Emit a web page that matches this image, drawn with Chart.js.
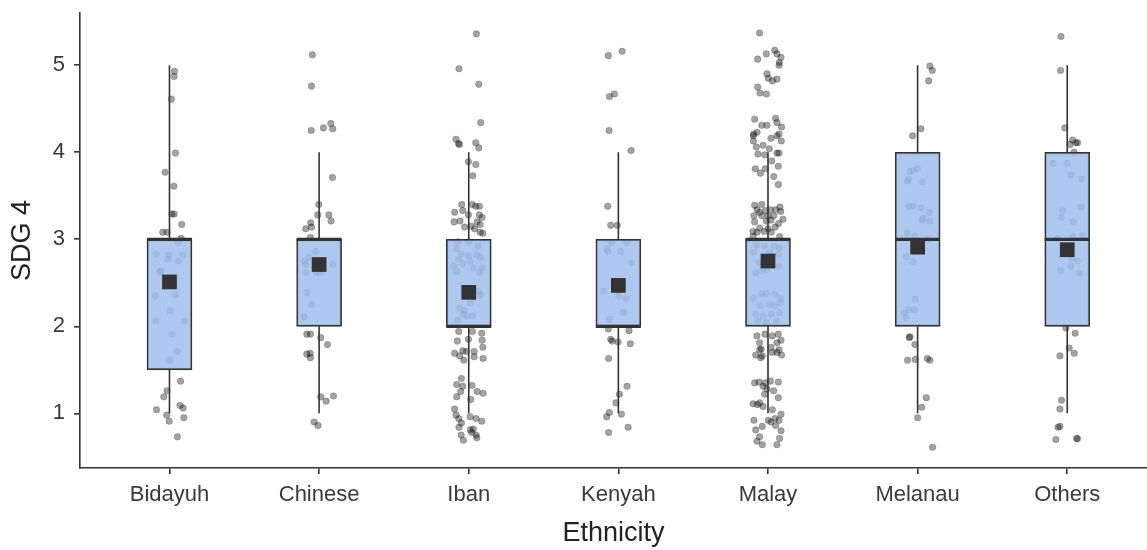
<!DOCTYPE html>
<html><head><meta charset="utf-8">
<script src="https://cdn.jsdelivr.net/npm/chart.js@4.4.1/dist/chart.umd.min.js"></script>
<style>html,body{margin:0;padding:0;background:#fff}</style>
</head><body>
<canvas id="c" width="1147" height="550"></canvas>
<script>
const categories = ["Bidayuh","Chinese","Iban","Kenyah","Malay","Melanau","Others"];
const whiskerLow  = [1, 1, 1, 1, 1, 1, 1];
const q1          = [1.5, 2, 2, 2, 2, 2, 2];
const median      = [3, 3, 2, 2, 3, 3, 3];
const q3          = [3, 3, 3, 3, 3, 4, 4];
const whiskerHigh = [5, 4, 4, 4, 4, 5, 5];
const means       = [2.51, 2.71, 2.39, 2.47, 2.75, 2.91, 2.88];
const yTicks = [1, 2, 3, 4, 5];

// jittered observations: [horizontal jitter, value]
const bidayuhPts = [[0.033,4.93],[0.031,4.87],[0.013,4.61],[0.040,3.99],[-0.029,3.77],[0.029,3.61],[0.016,3.29],[0.031,3.29],[0.082,3.17],[-0.045,3.08],[-0.016,3.08],[0.078,3.01],[0.058,2.96],[-0.089,2.83],[-0.004,2.82],[0.089,2.82],[-0.011,2.77],[0.060,2.75],[-0.056,2.64],[-0.067,2.62],[-0.094,2.35],[0.040,2.36],[0.004,2.18],[-0.091,2.06],[0.100,2.06],[0.016,1.91],[0.051,1.71],[0.002,1.61],[0.074,1.37],[-0.016,1.26],[-0.038,1.19],[0.071,1.09],[0.091,1.06],[-0.087,1.04],[-0.018,0.98],[-0.002,0.91],[0.096,0.95],[0.053,0.73]];
const chinesePts = [[-0.045,5.12],[-0.051,4.76],[-0.053,4.25],[0.029,4.28],[0.078,4.33],[0.091,4.27],[0.089,3.71],[-0.002,3.40],[-0.009,3.28],[0.065,3.28],[0.080,3.21],[-0.056,3.19],[-0.051,3.14],[-0.089,3.12],[-0.058,3.02],[-0.022,2.86],[-0.069,2.79],[-0.096,2.75],[-0.089,2.71],[0.091,2.71],[-0.087,2.62],[-0.020,2.62],[0.011,2.62],[-0.082,2.39],[-0.051,2.25],[-0.100,2.11],[-0.082,1.91],[-0.058,1.91],[0.011,1.87],[0.056,1.79],[-0.082,1.68],[-0.060,1.69],[-0.058,1.64],[0.011,1.19],[0.047,1.14],[0.096,1.20],[-0.033,0.90],[-0.007,0.86]];
const ibanPts = [[0.051,5.36],[-0.065,4.96],[0.067,4.78],[0.080,4.34],[-0.085,4.15],[-0.069,4.10],[-0.062,4.09],[0.047,4.11],[0.067,4.05],[-0.002,3.89],[0.047,3.86],[0.027,3.73],[-0.047,3.40],[0.022,3.40],[0.047,3.38],[0.071,3.38],[-0.094,3.31],[-0.040,3.33],[-0.002,3.28],[0.071,3.28],[0.089,3.25],[-0.098,3.20],[-0.058,3.21],[0.056,3.20],[-0.027,3.14],[0.016,3.15],[0.076,3.17],[0.040,3.12],[0.076,3.08],[0.094,3.07],[-0.071,2.97],[0.000,2.97],[0.062,2.92],[-0.080,2.89],[-0.051,2.83],[-0.002,2.81],[0.054,2.82],[0.078,2.79],[-0.067,2.77],[0.009,2.75],[-0.040,2.72],[-0.102,2.69],[0.033,2.67],[0.089,2.67],[-0.080,2.63],[0.071,2.62],[0.067,2.40],[0.078,2.36],[0.009,2.27],[-0.062,2.21],[-0.029,2.18],[-0.040,2.14],[-0.011,2.12],[0.027,2.12],[-0.074,2.07],[-0.067,1.94],[0.025,1.94],[0.087,1.92],[-0.076,1.83],[-0.002,1.85],[0.089,1.84],[0.094,1.76],[-0.040,1.72],[-0.094,1.69],[-0.016,1.71],[0.036,1.71],[-0.060,1.66],[-0.033,1.61],[0.036,1.65],[0.096,1.63],[-0.049,1.40],[-0.080,1.33],[-0.040,1.31],[0.022,1.32],[0.056,1.25],[0.096,1.23],[-0.054,1.25],[-0.080,1.19],[0.013,1.16],[-0.094,1.05],[-0.085,0.98],[-0.067,0.94],[-0.049,0.89],[0.009,0.96],[0.049,0.94],[0.087,0.91],[-0.065,0.84],[0.011,0.81],[0.031,0.82],[0.020,0.78],[0.049,0.75],[0.054,0.72],[-0.051,0.75],[-0.036,0.69]];
const kenyahPts = [[-0.067,5.11],[0.025,5.16],[-0.060,4.64],[-0.027,4.67],[-0.062,4.25],[0.085,4.02],[-0.071,3.38],[-0.051,3.16],[-0.007,3.16],[-0.045,2.96],[0.056,2.96],[-0.078,2.89],[-0.069,2.86],[0.016,2.86],[0.087,2.73],[-0.098,2.40],[0.002,2.35],[0.053,2.32],[0.033,2.16],[-0.060,2.08],[-0.067,1.97],[0.071,1.95],[-0.051,1.85],[-0.042,1.83],[-0.002,1.82],[0.080,1.80],[-0.065,1.63],[0.058,1.31],[0.007,1.22],[-0.016,1.12],[-0.060,1.01],[-0.078,0.96],[0.020,0.99],[-0.065,0.78],[0.065,0.84]];
const malayPts = [[-0.056,5.37],[-0.069,5.07],[-0.011,5.13],[0.045,5.17],[0.060,5.13],[0.087,5.09],[0.076,5.03],[0.074,5.00],[-0.007,4.90],[0.002,4.85],[0.029,4.82],[0.060,4.84],[-0.069,4.75],[-0.054,4.68],[-0.011,4.67],[-0.089,4.38],[-0.042,4.31],[-0.007,4.31],[0.051,4.39],[0.060,4.34],[0.091,4.29],[-0.096,4.21],[-0.098,4.19],[-0.073,4.23],[0.074,4.21],[0.060,4.19],[0.020,4.16],[0.089,4.13],[-0.098,4.13],[-0.033,4.08],[-0.078,4.06],[0.009,4.04],[0.060,3.99],[0.074,3.99],[-0.067,3.98],[-0.022,3.97],[0.025,3.90],[0.069,3.84],[-0.085,3.81],[-0.051,3.76],[-0.018,3.81],[0.038,3.72],[0.069,3.63],[-0.089,3.39],[-0.042,3.40],[0.080,3.37],[-0.073,3.34],[-0.056,3.31],[-0.016,3.33],[0.016,3.34],[0.051,3.34],[0.085,3.32],[-0.094,3.27],[-0.042,3.27],[0.000,3.27],[0.038,3.27],[0.100,3.23],[-0.089,3.20],[-0.011,3.21],[0.020,3.22],[0.071,3.18],[-0.056,3.13],[0.000,3.12],[0.047,3.14],[-0.100,3.09],[-0.073,3.08],[-0.025,3.09],[0.022,3.08],[0.078,3.03],[-0.100,3.03],[-0.078,2.93],[-0.022,2.92],[0.040,2.92],[0.078,2.90],[-0.096,2.85],[0.011,2.85],[0.069,2.83],[-0.060,2.73],[0.074,2.69],[-0.011,2.65],[-0.082,2.61],[-0.042,2.64],[-0.042,2.37],[-0.011,2.38],[0.045,2.37],[-0.096,2.32],[0.082,2.32],[-0.056,2.24],[0.011,2.25],[0.045,2.24],[0.085,2.27],[-0.082,2.14],[-0.033,2.12],[0.022,2.14],[0.078,2.16],[-0.067,2.06],[-0.011,2.04],[0.056,2.06],[-0.074,1.89],[-0.020,1.91],[0.029,1.89],[0.069,1.91],[0.087,1.84],[-0.056,1.81],[0.060,1.81],[-0.045,1.74],[-0.056,1.73],[0.020,1.76],[0.074,1.73],[-0.082,1.67],[-0.038,1.66],[0.029,1.70],[0.091,1.67],[-0.049,1.64],[0.060,1.70],[-0.089,1.35],[-0.060,1.36],[-0.018,1.35],[0.016,1.37],[0.069,1.36],[-0.033,1.31],[-0.007,1.28],[0.038,1.26],[0.069,1.18],[-0.022,1.22],[-0.100,1.11],[-0.056,1.12],[-0.033,1.08],[-0.071,1.10],[0.029,1.04],[0.087,0.99],[0.047,0.94],[0.002,0.92],[-0.094,0.92],[0.074,0.92],[0.020,0.90],[-0.038,0.85],[-0.082,0.81],[0.051,0.86],[0.087,0.80],[0.078,0.71],[-0.056,0.73],[-0.074,0.68],[-0.038,0.64],[0.060,0.64]];
const melanauPts = [[0.082,4.99],[0.098,4.94],[0.074,4.82],[0.022,4.27],[-0.033,4.19],[-0.002,3.81],[-0.051,3.78],[-0.029,3.79],[-0.060,3.69],[-0.069,3.67],[0.033,3.66],[-0.060,3.38],[-0.029,3.38],[0.022,3.36],[0.078,3.31],[0.038,3.24],[0.029,3.22],[0.082,3.21],[-0.069,3.07],[-0.020,3.04],[0.065,3.00],[-0.076,2.80],[-0.031,2.74],[-0.016,2.31],[-0.060,2.19],[-0.020,2.19],[-0.087,2.15],[-0.078,2.10],[-0.051,1.88],[-0.056,1.87],[-0.018,1.79],[-0.067,1.61],[-0.016,1.62],[0.065,1.63],[0.082,1.61],[0.058,1.18],[0.027,1.07],[0.000,0.95],[0.100,0.61]];
const othersPts = [[-0.042,5.33],[-0.045,4.94],[-0.016,4.28],[0.036,4.14],[0.018,4.09],[0.058,4.11],[0.069,4.11],[0.045,4.00],[-0.094,3.87],[0.000,3.87],[0.025,3.74],[0.096,3.69],[-0.031,3.33],[-0.040,3.25],[0.040,3.20],[0.094,3.37],[-0.062,3.01],[0.040,3.03],[0.100,3.04],[0.027,2.78],[0.067,2.75],[0.025,2.69],[-0.045,2.64],[0.082,2.61],[-0.009,1.98],[0.053,1.92],[0.013,1.75],[0.047,1.69],[-0.049,1.66],[-0.038,1.15],[-0.049,1.05],[-0.062,0.84],[-0.049,0.85],[-0.076,0.70],[0.062,0.71],[0.069,0.71]];
const groupPoints = [bidayuhPts, chinesePts, ibanPts, kenyahPts, malayPts, melanauPts, othersPts];

const FONT = "'Liberation Sans', Arial, Helvetica, sans-serif";
const DARK = '#333333';
const BOX_PX = 45;

const jitterData = [];
groupPoints.forEach((pts, i) => pts.forEach(p => jitterData.push({x: i + 1 + p[0], y: p[1]})));

const boxPlugin = {
  id: 'boxParts',
  afterDatasetDraw(chart, args) {
    if (args.index !== 1) return;
    const ctx = chart.ctx, xs = chart.scales.x, ys = chart.scales.y;
    ctx.save();
    ctx.strokeStyle = DARK;
    ctx.lineCap = 'butt';
    categories.forEach((c, i) => {
      const px = xs.getPixelForValue(i + 1);
      ctx.lineWidth = 1.6;
      ctx.beginPath();
      ctx.moveTo(px, ys.getPixelForValue(q3[i]));
      ctx.lineTo(px, ys.getPixelForValue(whiskerHigh[i]));
      ctx.moveTo(px, ys.getPixelForValue(q1[i]));
      ctx.lineTo(px, ys.getPixelForValue(whiskerLow[i]));
      ctx.stroke();
      ctx.lineWidth = 3.2;
      ctx.beginPath();
      const my = ys.getPixelForValue(median[i]);
      ctx.moveTo(px - BOX_PX / 2, my);
      ctx.lineTo(px + BOX_PX / 2, my);
      ctx.stroke();
    });
    ctx.restore();
  }
};

new Chart(document.getElementById('c'), {
  type: 'scatter',
  data: {
    datasets: [
      {
        type: 'scatter',
        data: means.map((m, i) => ({x: i + 1, y: m})),
        pointStyle: 'rect',
        pointRadius: 10.4,
        pointHoverRadius: 10.4,
        backgroundColor: DARK,
        borderWidth: 0,
        order: 0
      },
      {
        type: 'bar',
        data: categories.map((c, i) => ({x: i + 1, y: [q1[i], q3[i]]})),
        backgroundColor: 'rgba(160,190,237,0.85)',
        borderColor: DARK,
        borderWidth: 1.6,
        borderSkipped: false,
        barThickness: BOX_PX,
        order: 1
      },
      {
        type: 'scatter',
        data: jitterData,
        pointRadius: 3.3,
        pointHoverRadius: 3.3,
        backgroundColor: 'rgba(0,0,0,0.36)',
        borderColor: 'rgba(0,0,0,0.18)',
        borderWidth: 1,
        order: 2
      }
    ]
  },
  options: {
    responsive: false,
    devicePixelRatio: 1,
    animation: false,
    layout: {autoPadding: false, padding: {top: 13, right: 0, left: 0, bottom: 0}},
    plugins: {legend: {display: false}, tooltip: {enabled: false}},
    scales: {
      x: {
        type: 'linear',
        min: 0.402,
        max: 7.533,
        offset: false,
        afterBuildTicks: s => { s.ticks = categories.map((c, i) => ({value: i + 1})); },
        afterFit: s => { s.height = 82; s.paddingLeft = 0; s.paddingRight = 0; },
        ticks: {
          callback: v => categories[Math.round(v) - 1],
          font: {family: FONT, size: 22},
          color: '#3a3a3a',
          padding: 8,
          maxRotation: 0,
          autoSkip: false
        },
        grid: {display: true, offset: false, drawOnChartArea: false, drawTicks: true, tickLength: 6, color: DARK, lineWidth: 1.6},
        border: {display: true, color: DARK, width: 1.6},
        title: {display: true, text: 'Ethnicity', font: {family: FONT, size: 27}, color: '#222', padding: {top: 0, bottom: 0}}
      },
      y: {
        type: 'linear',
        min: 0.372,
        max: 5.6,
        afterBuildTicks: s => { s.ticks = yTicks.map(v => ({value: v})); },
        afterFit: s => { s.width = 80; s.paddingTop = 0; s.paddingBottom = 0; },
        ticks: {
          font: {family: FONT, size: 22},
          color: '#3a3a3a',
          padding: 9
        },
        grid: {display: true, offset: false, drawOnChartArea: false, drawTicks: true, tickLength: 6, color: DARK, lineWidth: 1.6},
        border: {display: true, color: DARK, width: 1.6},
        title: {display: true, text: 'SDG 4', font: {family: FONT, size: 27}, color: '#222', padding: {top: 6, bottom: 0}}
      }
    }
  },
  plugins: [boxPlugin]
});
</script>
</body></html>
